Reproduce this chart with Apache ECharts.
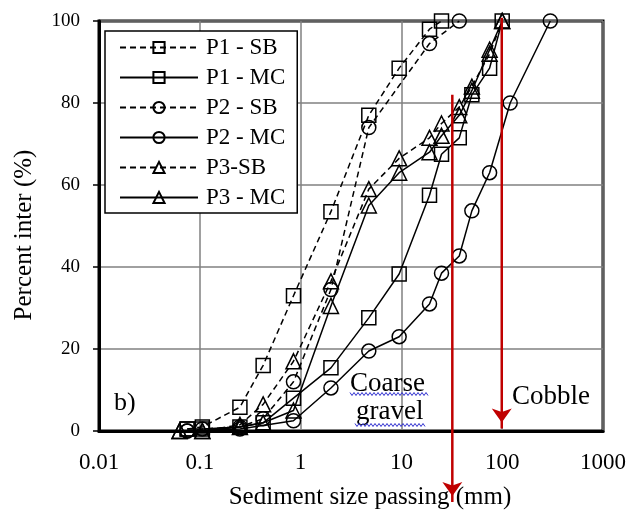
<!DOCTYPE html>
<html>
<head>
    <meta charset="utf-8">
    <script type="text/javascript" src="https://cdn.jsdelivr.net/npm/echarts@6/dist/echarts.min.js"></script>
    <style type="text/css">
        *{ margin: 0; padding: 0; }
        #main{ width: 640px; height: 517px; background: #fff; }
    </style>
</head>
<body>
<div id="main"></div>
<script type="text/javascript">
    // grain size (mm) and percent finer for each sample
    var p1sbSize = [0.075, 0.106, 0.25, 0.425, 0.85, 2, 4.75, 9.5, 19, 25];
    var p1sbPct  = [0.5, 1, 5.8, 16, 33, 53.5, 77, 88.5, 98, 100];
    var p1mcSize = [0.075, 0.106, 0.25, 0.425, 0.85, 2, 4.75, 9.5, 19, 25, 37.5, 50, 75, 100];
    var p1mcPct  = [0.5, 0.5, 1, 2, 8, 15.4, 27.6, 38.3, 57.5, 67.5, 71.5, 82, 88.5, 100];
    var p2sbSize = [0.075, 0.106, 0.25, 0.425, 0.85, 2, 4.75, 19, 37.5];
    var p2sbPct  = [0, 0.5, 1, 3, 12, 34.5, 74, 94.5, 100];
    var p2mcSize = [0.075, 0.25, 0.85, 2, 4.75, 9.5, 19, 25, 37.5, 50, 75, 120, 300];
    var p2mcPct  = [0, 0.5, 2.5, 10.5, 19.5, 23, 31, 38.5, 42.7, 53.7, 63, 80, 100];
    var p3sbSize = [0.063, 0.106, 0.25, 0.425, 0.85, 2, 4.75, 9.5, 19, 25, 37.5, 50, 75, 100];
    var p3sbPct  = [0, 0, 1.5, 6.5, 17, 36.5, 59, 66.5, 71.5, 75, 79, 84, 92, 100];
    var p3mcSize = [0.063, 0.106, 0.25, 0.425, 0.85, 2, 4.75, 9.5, 19, 25, 37.5, 50, 75, 100];
    var p3mcPct  = [0, 0, 1, 2, 5, 30.5, 55, 63, 68, 72, 77, 83, 93, 100];

    var xTicks = ['0.01', '0.1', '1', '10', '100', '1000'];
    var yTicks = [0, 20, 40, 60, 80, 100];

    // red boundary arrows: [size, top %, bottom %]
    var gravelLine = [32, 82, -17.3];
    var cobbleLine = [99, 100.8, 0.6];

    var font = 'Liberation Serif';

    function pairs(xs, ys) {
        var out = [];
        for (var i = 0; i < xs.length; i++) out.push([xs[i], ys[i]]);
        return out;
    }

    function mkSeries(name, sym, dashed, xs, ys) {
        return {
            name: name,
            type: 'line',
            data: pairs(xs, ys),
            symbol: sym,
            symbolSize: sym === 'triangle' ? 15 : 14,
            clip: false,
            z: 3,
            lineStyle: { color: '#000', width: 1.5, type: dashed ? [6, 4] : 'solid' },
            itemStyle: { color: 'rgba(255,255,255,0)', borderColor: '#000', borderWidth: 1.5 },
            emphasis: { disabled: true }
        };
    }

    function arrowSeries(a) {
        return {
            type: 'line',
            clip: false,
            z: 4,
            symbolKeepAspect: true,
            lineStyle: { color: '#c00000', width: 2.5 },
            itemStyle: { color: '#c00000' },
            emphasis: { disabled: true },
            data: [
                { value: [a[0], a[1]], symbol: 'none' },
                { value: [a[0], a[2]], symbol: 'arrow', symbolSize: [15, 14], symbolRotate: 180, symbolOffset: [0, -6] }
            ]
        };
    }

    var series = [
        mkSeries('P1 - SB', 'rect', true, p1sbSize, p1sbPct),
        mkSeries('P1 - MC', 'rect', false, p1mcSize, p1mcPct),
        mkSeries('P2 - SB', 'circle', true, p2sbSize, p2sbPct),
        mkSeries('P2 - MC', 'circle', false, p2mcSize, p2mcPct),
        mkSeries('P3-SB', 'triangle', true, p3sbSize, p3sbPct),
        mkSeries('P3 - MC', 'triangle', false, p3mcSize, p3mcPct),
        arrowSeries(gravelLine),
        arrowSeries(cobbleLine)
    ];

    // spell-check style wavy underline
    function wavy(x0, x1, y) {
        var pts = [];
        for (var x = x0, k = 0; x <= x1; x += 2, k++) pts.push([x, y + (k % 2 ? 1.5 : -1.5)]);
        return { type: 'polyline', z: 10, shape: { points: pts }, style: { stroke: '#3030d0', lineWidth: 1, fill: null } };
    }

    var myChart = echarts.init(document.getElementById('main'));
    var option = {
        animation: false,
        backgroundColor: '#fff',
        grid: {
            left: 99, right: 37, top: 21, bottom: 86,
            show: true, borderColor: '#000', borderWidth: 3
        },
        legend: {
            orient: 'vertical',
            left: 105, top: 31,
            padding: [5, 12, 4, 14],
            itemWidth: 78, itemHeight: 14, itemGap: 7,
            backgroundColor: '#fff',
            borderColor: '#000', borderWidth: 1.5,
            textStyle: { fontFamily: font, fontSize: 23, color: '#000', padding: [0, 0, 0, 3] },
            data: ['P1 - SB', 'P1 - MC', 'P2 - SB', 'P2 - MC', 'P3-SB', 'P3 - MC']
        },
        xAxis: {
            type: 'log', logBase: 10, min: 0.01, max: 1000,
            name: 'Sediment size passing (mm)',
            nameLocation: 'middle', nameGap: 54,
            nameTextStyle: { fontFamily: font, fontSize: 25, color: '#000', padding: [0, 0, 0, 38] },
            axisLine: { lineStyle: { color: '#000', width: 3 } },
            axisTick: { show: false },
            axisLabel: {
                fontFamily: font, fontSize: 23, color: '#000', margin: 20,
                formatter: function (v) {
                    var k = Math.round(Math.log10(v)) + 2;
                    return xTicks[k];
                }
            },
            splitLine: { show: true, lineStyle: { color: '#808080', width: 1.5 } },
            minorTick: { show: false }
        },
        yAxis: {
            type: 'value', min: 0, max: 100, interval: 20,
            name: 'Percent inter (%)',
            nameLocation: 'middle', nameGap: 62,
            nameTextStyle: { fontFamily: font, fontSize: 25, color: '#000', padding: [0, 18, 0, 0] },
            axisLine: { show: true, lineStyle: { color: '#000', width: 3 } },
            axisTick: { show: true, length: 6, lineStyle: { color: '#000', width: 1.5 } },
            axisLabel: {
                fontFamily: font, fontSize: 19, color: '#000', margin: 19,
                formatter: function (v) { return yTicks.indexOf(v) >= 0 ? String(v) : ''; }
            },
            splitLine: { show: true, lineStyle: { color: '#808080', width: 1.5 } }
        },
        graphic: [
            { type: 'text', z: 10, left: 114, top: 390, style: { text: 'b)', fontFamily: font, fontSize: 26, fill: '#000' } },
            { type: 'text', z: 10, left: 350, top: 370, style: { text: 'Coarse', fontFamily: font, fontSize: 27, fill: '#000' } },
            { type: 'text', z: 10, left: 356, top: 398, style: { text: 'gravel', fontFamily: font, fontSize: 27, fill: '#000' } },
            { type: 'text', z: 10, left: 512, top: 383, style: { text: 'Cobble', fontFamily: font, fontSize: 27, fill: '#000' } },
            wavy(350, 428, 394),
            wavy(355, 425, 425)
        ],
        series: series
    };
    myChart.setOption(option);
</script>
</body>
</html>
